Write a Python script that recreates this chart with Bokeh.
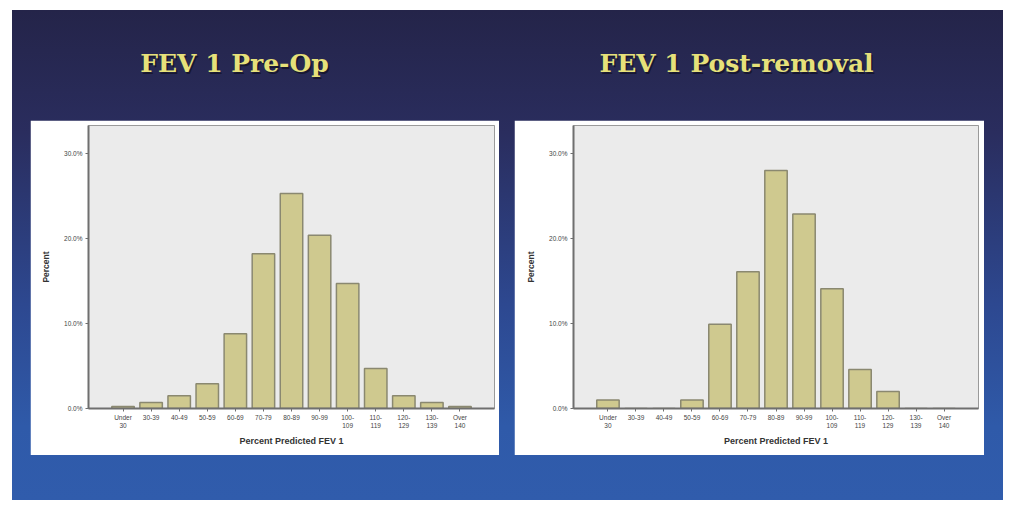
from bokeh.plotting import figure
from bokeh.layouts import column, row
from bokeh.models import Spacer, FixedTicker, PrintfTickFormatter, Range1d, FactorRange
from bokeh.core.properties import value
from bokeh.embed import file_html
from bokeh.resources import INLINE

# ---- data ----
NB = "\u00a0"
categories = ["Under\n30", "30-39\n" + NB, "40-49\n" + NB, "50-59\n" + NB, "60-69\n" + NB,
              "70-79\n" + NB, "80-89\n" + NB, "90-99\n" + NB, "100-\n109", "110-\n119",
              "120-\n129", "130-\n139", "Over\n140"]
pre_op = [0.25, 0.7, 1.5, 2.9, 8.8, 18.2, 25.3, 20.4, 14.7, 4.7, 1.5, 0.7, 0.25]
post_removal = [1.0, 0.0, 0.0, 1.0, 9.9, 16.1, 28.0, 22.9, 14.1, 4.6, 2.0, 0.0, 0.0]
y_ticks = [0, 10, 20, 30]
titles = ["FEV 1 Pre-Op", "FEV 1 Post-removal"]
x_label = "Percent Predicted FEV 1"
y_label = "Percent"

BAR_FILL = "#cfc98f"
BAR_LINE = "#8a8870"
AXIS_COL = "#6f6f6f"


def make_chart(vals, width, bl, br):
    p = figure(width=width, height=335,
               x_range=FactorRange(factors=categories, range_padding=0.73,
                                   range_padding_units="absolute"),
               y_range=Range1d(0, 33.3),
               output_backend="svg", toolbar_location=None,
               min_border_left=bl, min_border_right=br,
               min_border_top=5, min_border_bottom=47)
    p.vbar(x=categories, top=vals, width=0.8, bottom=0,
           fill_color=BAR_FILL, line_color=BAR_LINE, line_width=1.5)
    p.background_fill_color = "#ebebeb"
    p.border_fill_color = "white"
    p.outline_line_color = "#9a9a9a"
    p.outline_line_width = 1
    p.grid.visible = False

    p.yaxis.ticker = FixedTicker(ticks=y_ticks)
    p.yaxis.formatter = PrintfTickFormatter(format="%.1f%%")
    p.yaxis.minor_tick_line_color = None

    for ax in (p.xaxis[0], p.yaxis[0]):
        ax.axis_line_color = AXIS_COL
        ax.axis_line_width = 2
        ax.major_tick_line_color = AXIS_COL
        ax.major_tick_out = 3
        ax.major_tick_in = 0
        ax.major_label_text_font = "Liberation Sans"
        ax.major_label_text_font_size = "6.5px"
        ax.major_label_text_color = "#444444"
        ax.axis_label_text_font = "Liberation Sans"
        ax.axis_label_text_font_style = "bold"
        ax.axis_label_text_color = "#333333"
    p.yaxis.major_label_standoff = 3
    p.xaxis.major_label_standoff = 2
    p.xaxis.axis_label = x_label
    p.xaxis.axis_label_text_font_size = "9px"
    p.xaxis.axis_label_standoff = 4
    p.yaxis.axis_label = y_label
    p.yaxis.axis_label_text_font_size = "8.5px"
    p.yaxis.axis_label_standoff = 10
    return p


left = make_chart(pre_op, 469, 58, 5)
right = make_chart(post_removal, 470, 59, 6)

header = figure(width=991, height=110, x_range=Range1d(12, 1003), y_range=Range1d(120, 10),
                output_backend="svg", toolbar_location=None,
                x_axis_location=None, y_axis_location=None, min_border=0)
header.grid.visible = False
header.outline_line_color = None
header.background_fill_alpha = 0
header.border_fill_alpha = 0
title_x = [234, 736]
title_y = [63, 63]
header.text(x=title_x, y=title_y, text=titles, x_offset=1.5, y_offset=1.5,
            text_font=value("DejaVu Serif"), text_font_style="bold",
            text_font_size="25px", text_color="#101020", text_alpha=0.7,
            text_align="center", text_baseline="middle")
header.text(x=title_x, y=title_y, text=titles,
            text_font=value("DejaVu Serif"), text_font_style="bold",
            text_font_size="25px", text_color="#e6e17a",
            text_align="center", text_baseline="middle")

body = row(Spacer(width=18, height=335), left, Spacer(width=15, height=335), right,
           Spacer(width=19, height=335))
root = column(header, body, Spacer(width=991, height=45),
              styles={"background": "linear-gradient(180deg, #242449 0%, #2a2d5e 25%, #2d4890 60%, #2f5aa9 85%, #305cac 100%)",
                      "margin-left": "12px", "margin-top": "10px"})

open("out.html", "w").write(file_html(root, INLINE))
